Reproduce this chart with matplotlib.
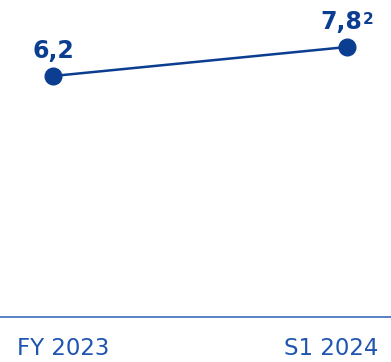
import matplotlib
matplotlib.use("Agg")
import matplotlib.pyplot as plt

categories = ["FY 2023", "S1 2024"]
values = [6.2, 7.8]
value_labels = ["6,2", "7,8"]
footnotes = ["", "2"]

dark_blue = "#0b3d91"
label_blue = "#1f55b0"
axis_blue = "#3a6bbd"

plt.rcParams["font.family"] = ["DejaVu Sans"]

fig = plt.figure(figsize=(3.91, 3.62), dpi=100)
ax = fig.add_axes([0, 45 / 362, 1, 317 / 362])

x = list(range(len(values)))
ax.plot(x, values, color=dark_blue, lw=1.8, marker="o", ms=12,
        markerfacecolor=dark_blue, markeredgecolor=dark_blue, zorder=3)

for xi, v, lab, fn in zip(x, values, value_labels, footnotes):
    if fn:
        ax.annotate(lab, (xi, v), xytext=(10.8, 13), textcoords="offset points",
                    ha="right", va="baseline", fontsize=17, fontweight="bold",
                    color=dark_blue)
        ax.annotate(fn, (xi, v), xytext=(11.5, 25.5), textcoords="offset points",
                    ha="left", va="top", fontsize=11, fontweight="bold",
                    color=dark_blue)
    else:
        ax.annotate(lab, (xi, v), xytext=(0, 13), textcoords="offset points",
                    ha="center", va="baseline", fontsize=17, fontweight="bold",
                    color=dark_blue)

ax.set_xlim(-53 / 294, 1 + 44 / 294)
px_per_unit = 29 / 1.6
ax.set_ylim(6.2 - 241 / px_per_unit, 7.8 + 47 / px_per_unit)

for s in ["top", "left", "right"]:
    ax.spines[s].set_visible(False)
ax.spines["bottom"].set_color(axis_blue)
ax.spines["bottom"].set_linewidth(1.2)
ax.set_yticks([])
ax.set_xticks([])

label_y = -(337 - 317) / 317
ax.text(17 / 391, label_y, categories[0], transform=ax.transAxes,
        ha="left", va="top", fontsize=16.5, color=label_blue)
ax.text(378 / 391, label_y, categories[1], transform=ax.transAxes,
        ha="right", va="top", fontsize=16.5, color=label_blue)

fig.savefig("out.png", dpi=100)
